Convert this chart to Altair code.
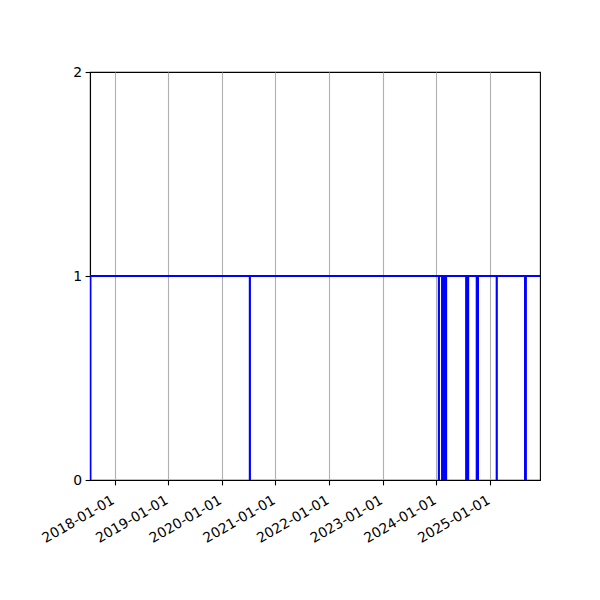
import altair as alt
import pandas as pd

# Step series: value holds from each date until the next one
dates = [
    "2017-07-20", "2017-07-21",
    "2020-07-10", "2020-07-11",
    "2024-01-18", "2024-01-19",
    "2024-02-09", "2024-02-10",
    "2024-02-13", "2024-02-14",
    "2024-02-17", "2024-02-18",
    "2024-02-21", "2024-02-22",
    "2024-02-25", "2024-02-26",
    "2024-02-29", "2024-03-01",
    "2024-03-04", "2024-03-05",
    "2024-03-07", "2024-03-08",
    "2024-07-22", "2024-07-23",
    "2024-07-26", "2024-07-27",
    "2024-07-30", "2024-07-31",
    "2024-08-04", "2024-08-05",
    "2024-10-02", "2024-10-03",
    "2024-10-06", "2024-10-07",
    "2024-10-10", "2024-10-11",
    "2025-02-15", "2025-02-16",
    "2025-08-27", "2025-08-28",
    "2025-09-01", "2025-09-02",
    "2025-12-07",
]
values = [0, 1] * 21 + [1]

tick_years = [2018, 2019, 2020, 2021, 2022, 2023, 2024, 2025]
y_ticks = [0.0, 1.0, 2.0]

df = pd.DataFrame({"date": dates, "value": values})

tick_dates = [alt.DateTime(year=y, month=1, date=1, utc=True) for y in tick_years]
x_domain = [
    alt.DateTime(year=2017, month=7, date=18, utc=True),
    alt.DateTime(year=2025, month=12, date=7, utc=True),
]

chart = (
    alt.Chart(df)
    .mark_line(interpolate="step-after", color="#0000ff", strokeWidth=2, clip=True)
    .encode(
        x=alt.X(
            "date:T",
            scale=alt.Scale(type="utc", domain=x_domain, nice=False),
            axis=alt.Axis(
                values=tick_dates,
                format="%Y-%m-%d",
                labelAngle=-30,
                labelAlign="right",
                labelBaseline="top",
                labelOffset=-5,
                labelPadding=8,
                labelOverlap=False,
                labelFlush=False,
                grid=True,
                gridColor="#b0b0b0",
                gridWidth=1.1,
                title=None,
            ),
        ),
        y=alt.Y(
            "value:Q",
            scale=alt.Scale(domain=[0, 2], nice=False, zero=False),
            axis=alt.Axis(
                values=y_ticks,
                format=".0f",
                grid=False,
                title=None,
                labelPadding=3.5,
                labelOverlap=False,
                labelFlush=False,
            ),
        ),
    )
    .properties(
        width=450,
        height=408,
        autosize=alt.AutoSizeParams(type="none"),
        padding={"left": 82, "top": 64, "right": 52, "bottom": 112},
    )
    .configure_axis(
        domainColor="black",
        domainWidth=1.1,
        tickColor="black",
        tickWidth=1.1,
        tickSize=4.9,
        labelColor="black",
        labelFont="DejaVu Sans",
        labelFontSize=13.9,
    )
    .configure_view(stroke="black", strokeWidth=1.1)
)

chart.save("out.html", embed_options={"renderer": "svg", "actions": False})
